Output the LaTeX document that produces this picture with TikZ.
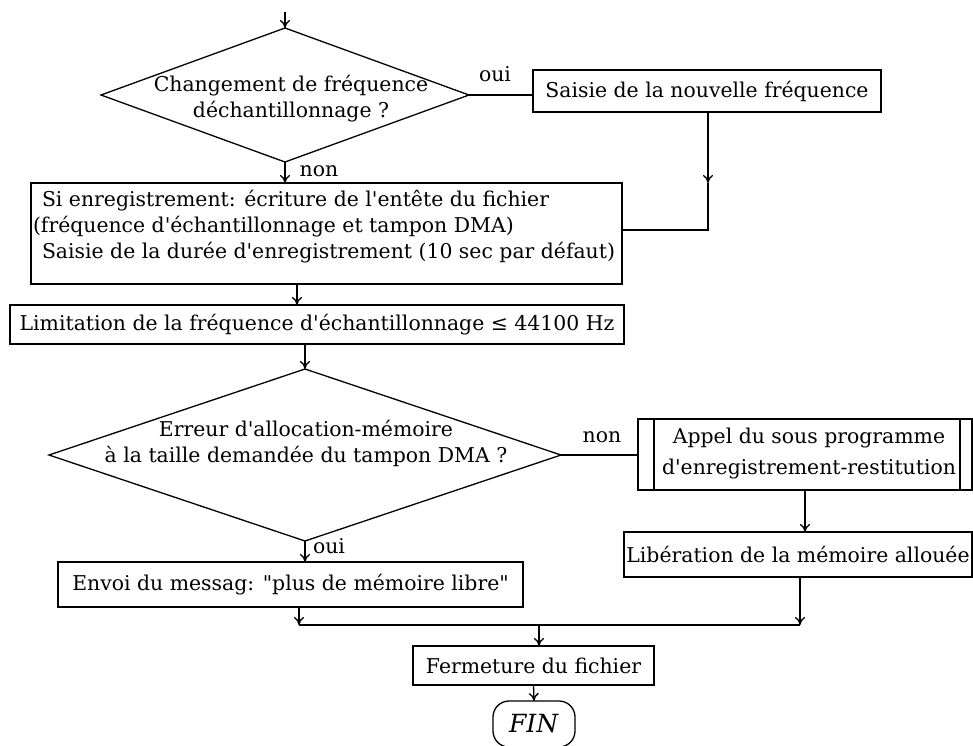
\documentclass[tikz,border=0pt]{standalone}
\usepackage{fontspec}
\setmainfont{DejaVu Serif}[Ligatures=TeXOff]
\usetikzlibrary{shapes.geometric,arrows.meta}

\begin{document}
\begin{tikzpicture}[x=1pt,y=-1pt,
  font=\fontsize{20.4}{26}\selectfont,
  line width=1.3pt,
  every node/.style={inner sep=0pt, outer sep=0pt},
  proc/.style={draw, rectangle, align=center},
  decision/.style={draw, diamond},
  subproc/.style={draw, rectangle,
    path picture={
      \draw ([xshift=16pt]path picture bounding box.north west)
         -- ([xshift=16pt]path picture bounding box.south west);
      \draw ([xshift=-12pt]path picture bounding box.north east)
         -- ([xshift=-12pt]path picture bounding box.south east);}},
  terminal/.style={draw, rectangle, rounded corners=16pt},
  flow/.style={-{To[length=8pt,width=10pt]}},
  answer/.style={}
]
\useasboundingbox (0,0) rectangle (973,745);

% --- choice of the sampling frequency ---
\coordinate (start) at (285,12);
\node[decision, minimum width=368pt, minimum height=134pt] (d1) at (285,95) {};
\node[align=center] (d1txt) at (291,99) {Changement de fréquence\\déchantillonnage ?};
\node[proc, minimum width=348pt, minimum height=42pt] (newfreq) at (707,91)
  {Saisie de la nouvelle fréquence};
\node[answer] (oui1) at (495,74) {oui};

% --- file header and duration ---
\node[draw, rectangle, minimum width=591pt, minimum height=101pt] (header) at (326.5,233.5) {};
\node[align=left, anchor=west] (headertxt) at (42,227)
  {Si enregistrement: écriture de l'entête du fichier\\
   \hspace*{-9pt}(fréquence d'échantillonnage et tampon DMA)\\
   Saisie de la durée d'enregistrement (10 sec par défaut)};
\node[answer] (non1) at (319,171) {non};
\coordinate (c1) at (708,183);
\coordinate (c2) at (708,230);

% --- frequency limit ---
\node[proc, minimum width=614pt, minimum height=39pt] (limit) at (317,324.5)
  {Limitation de la fréquence d'échantillonnage ≤ 44100 Hz};

% --- memory allocation test ---
\node[decision, minimum width=512pt, minimum height=172pt] (d2) at (305,455) {};
\node[align=center] (d2txt) at (306,443)
  {Erreur d'allocation-mémoire\\à la taille demandée du tampon DMA ?};
\node[subproc, minimum width=334pt, minimum height=71pt] (call) at (805,454.5) {};
\node[align=center, font=\fontsize{20.4}{31}\selectfont] (calltxt) at (809,454)
  {Appel du sous programme\\d'enregistrement-restitution};
\node[answer] (non2) at (602,437) {non};
\node[answer] (oui2) at (329,546) {oui};

\node[proc, minimum width=465pt, minimum height=45pt] (nomem) at (290.5,584.5)
  {Envoi du messag: "plus de mémoire libre"};
\node[proc, minimum width=348pt, minimum height=45pt] (free) at (798,554.5)
  {Libération de la mémoire allouée};

% --- closing ---
\coordinate (jl) at (299,625);
\coordinate (jr) at (800,625);
\coordinate (jm) at (539,625);
\node[proc, minimum width=241pt, minimum height=39pt] (close) at (533.5,665.5)
  {Fermeture du fichier};
\node[terminal, minimum width=82pt, minimum height=46pt] (fin) at (534,724)
  {\fontsize{25}{25}\selectfont\textit{FIN}};

% --- connectors ---
\draw[flow] (start) -- (d1.north);
\draw (d1.east) -- (d1.east -| newfreq.west);
\draw[flow] (newfreq.south -| c1) -- (c1);
\draw (c1) -- (c2) -- (c2 -| header.east);
\draw[flow] (d1.south) -- (d1.south |- header.north);
\draw[flow] (header.south -| 297,0) -- (limit.north -| 297,0);
\draw[flow] (limit.south -| d2.north) -- (d2.north);
\draw (d2.east) -- (d2.east -| call.west);
\draw[flow] (call.south) -- (call.south |- free.north);
\draw[flow] (d2.south) -- (d2.south |- nomem.north);
\draw[flow] (nomem.south -| jl) -- (jl);
\draw[flow] (free.south -| jr) -- (jr);
\draw (jl) -- (jr);
\draw[flow] (jm) -- (jm |- close.north);
\draw[flow] (close.south) -- (fin.north);
\end{tikzpicture}
\end{document}
